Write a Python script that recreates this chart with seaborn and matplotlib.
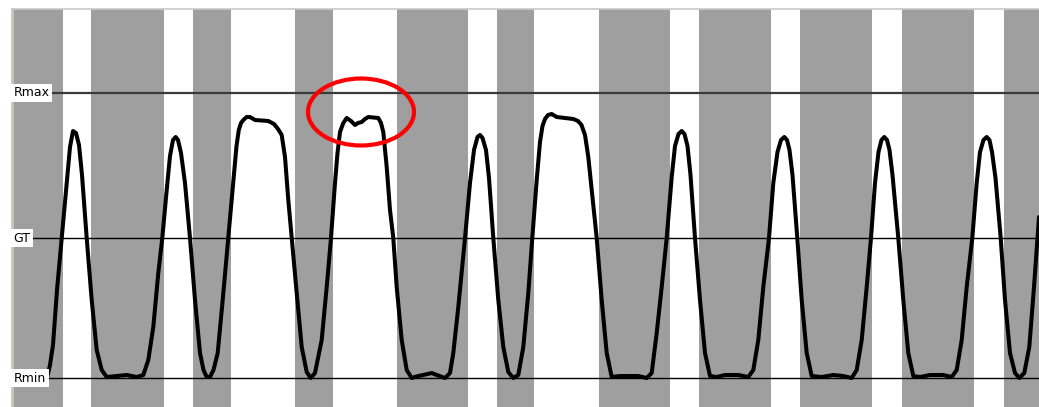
import numpy as np
import pandas as pd
import matplotlib
matplotlib.use("Agg")
import matplotlib.pyplot as plt
from matplotlib.patches import Ellipse
import seaborn as sns

# ---- data -------------------------------------------------------------
# dark bars of the barcode (start, end) along the scan position
bar_start = [12, 91, 193, 295, 397, 497, 599, 699, 800, 902, 1004]
bar_end = [63, 164, 231, 333, 468, 534, 670, 771, 872, 974, 1039]

# reference levels of the scan reflectance profile
level_names = ["Rmax", "GT", "Rmin"]
level_values = [285, 140, 0]

# scan reflectance profile (position, signal)
scan_x = [12, 47, 50, 53, 57, 61.7, 66.7, 70, 73, 76, 79, 82, 86.7, 91.7, 96.7,
          101.7, 106.7, 116.7, 126.7, 136.7, 143.3, 148.3, 153.3, 158.3, 162.3,
          166.7, 170, 173, 175.7, 178, 181, 185, 190, 195, 200, 203.5, 206.7,
          210, 213.5, 217.7, 222.7,
          228.3, 233.3, 236.5, 238.8, 241, 243.3, 246.7, 250, 255, 268.3, 274,
          278, 281.7, 285, 288.3,
          291.7, 296.7, 301.7, 306.7, 310.7, 315, 321.7, 326.7, 331, 335, 337.5,
          340, 343.3, 346.7, 351, 355, 358, 361.7, 365, 368.3, 378.3, 381, 383.3,
          386.7, 390, 393.3, 396.7,
          401.7, 406.7, 411.7, 418.3, 423.3, 431.7, 436.7, 445, 450, 453.3, 458.3,
          465, 470, 474, 477.5, 480, 482.5, 486, 489, 493.3, 498.3, 503.3, 508.3,
          513.3, 518.3,
          523.3, 528.3, 532.3, 536.7, 540, 542.5, 545, 548, 551.7, 556.7, 573.3,
          578, 581.5, 585,
          588.3, 592.7, 596.7, 601.7, 606.7, 611.7, 620, 638.3, 646.7, 651.7,
          656.7, 661.7, 666.7, 671.7, 675, 678.5, 681.7, 684.5, 687.5, 690.5, 695,
          700, 705, 710,
          716.7, 725, 738.3, 748.3, 753.3, 758.3, 763.3, 769, 773.3, 777.5, 781,
          784.3, 787, 789.5, 792.5, 797.3, 801.7, 806.7, 811.7, 821.7, 833.3,
          843.3, 851.7,
          856.7, 861.7, 866.7, 871, 875, 878.5, 881.5, 884.3, 887, 889.5, 892.5,
          898.3, 903.3,
          908.3, 913.3, 920, 930, 943.3, 951.7, 956.7, 961.7, 966.7, 972.3, 976.7,
          980, 983.5, 986.7, 989.5, 992, 995.5, 1000.7, 1005, 1010, 1015, 1019.3,
          1024.3, 1029.3, 1034, 1039]
scan_y = [0, 0, 13, 33, 88, 140, 195, 231, 247, 245, 233, 203, 140, 78, 28,
          8, 1, 2, 3, 1, 3, 18, 51, 105, 140,
          188, 222, 238, 241, 238, 225, 195, 140, 78, 25, 8, 1,
          1, 8, 25, 78,
          140, 195, 232, 248, 255, 258, 261, 261, 258, 257, 254,
          249, 243, 221, 178,
          140, 85, 31, 6, 0, 5, 38, 91, 140, 195, 225,
          246, 255, 260, 257, 253, 255, 256, 259, 261, 260, 255, 246,
          211, 168, 140, 91,
          38, 8, 0, 2, 3, 5, 3, 0, 5, 25, 71,
          140, 195, 228, 241, 243, 240, 228, 200, 140, 78, 31, 6,
          0, 3,
          31, 85, 140, 198, 236, 252, 259, 263, 264, 261, 259,
          257, 253, 243,
          221, 178, 140, 78, 25, 1, 2, 2, 0, 5,
          45, 91, 140, 201, 232, 244, 247, 244, 232, 203, 140,
          78, 25, 2,
          1, 3, 3, 1, 8, 38, 91, 140, 195, 226, 238,
          241, 238, 228, 203, 140, 78, 25, 2, 1, 3,
          2, 0,
          8, 38, 91, 140, 195, 226, 238, 241, 238, 228, 203,
          140, 78,
          25, 2, 1, 3, 3, 1, 8, 38, 91, 140, 195,
          226, 238, 241, 238, 226, 200, 140, 78, 25, 5, 0,
          5, 31, 91, 161]

# highlighted region (centre x, centre y, width, height)
mark_center = (361, 266)
mark_size = (106, 67)

# ---- plot -------------------------------------------------------------
sns.set_theme(style="white")
plt.rcParams["font.family"] = ["DejaVu Sans"]

W, H = 1039, 407
fig = plt.figure(figsize=(W / 100, H / 100), dpi=100)
ax = fig.add_axes([12 / W, 0, (W - 12) / W, (H - 9) / H])
ax.set_xlim(12, 1039)
ax.set_ylim(-29, 369)

for s, e in zip(bar_start, bar_end):
    ax.axvspan(s, e, color="#9f9f9f", lw=0, zorder=0)

line_styles = {"Rmax": ("#3a3a3a", 1.6), "GT": ("#000000", 1.0), "Rmin": ("#000000", 1.0)}
for name, val in zip(level_names, level_values):
    c, lw = line_styles[name]
    ax.axhline(val, color=c, lw=lw, zorder=1)

df = pd.DataFrame({"x": scan_x, "y": scan_y})
sns.lineplot(data=df, x="x", y="y", sort=False, estimator=None,
             color="black", lw=2.9, ax=ax, zorder=3,
             solid_joinstyle="round", solid_capstyle="round")

for name, val in zip(level_names, level_values):
    ax.text(13.5, val, name, fontsize=9, color="black", va="center", ha="left",
            zorder=5,
            bbox=dict(boxstyle="square,pad=0.22", fc="white", ec="none"))

ax.add_patch(Ellipse(mark_center, mark_size[0], mark_size[1], fill=False,
                     ec="#ff0000", lw=3.0, zorder=6))

ax.set_xlabel("")
ax.set_ylabel("")
ax.set_xticks([])
ax.set_yticks([])
for side in ["right", "bottom"]:
    ax.spines[side].set_visible(False)
ax.spines["top"].set_color("#c8c8c8")
ax.spines["top"].set_linewidth(1.2)
ax.spines["left"].set_color("#cdc5b6")
ax.spines["left"].set_linewidth(2.0)

fig.savefig("out.png", dpi=100)
